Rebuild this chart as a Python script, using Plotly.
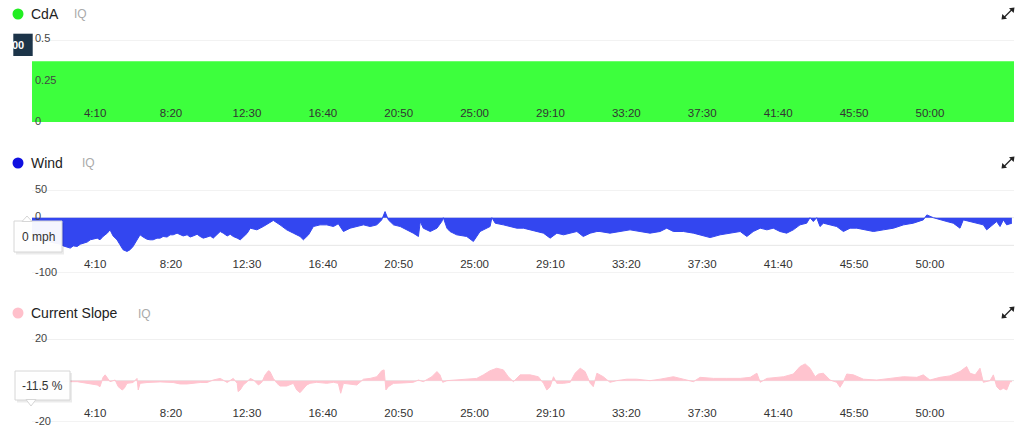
import plotly.graph_objects as go

W, H = 1024, 443

# ---------------- data ----------------
tick_seconds = [250, 500, 750, 1000, 1250, 1500, 1750, 2000, 2250, 2500, 2750, 3000]
tick_labels = ["4:10", "8:20", "12:30", "16:40", "20:50", "25:00",
               "29:10", "33:20", "37:30", "41:40", "45:50", "50:00"]

cda_t = [42, 3277]
cda_v = [0.37, 0.37]

wind_t = [42, 69, 102, 135, 145, 158, 168, 178, 191, 201, 210, 224, 234, 243, 257, 266, 276, 290,
          299, 309, 322, 332, 342, 355, 365, 375, 388, 398, 408, 421, 431, 441, 454, 464, 474, 487,
          497, 507, 520, 530, 540, 553, 563, 573, 586, 596, 606, 619, 629, 639, 652, 662, 672, 685,
          695, 705, 718, 728, 738, 751, 761, 783, 804, 837, 859, 881, 903, 925, 936, 953, 969, 991,
          1013, 1035, 1051, 1068, 1090, 1112, 1134, 1156, 1178, 1194, 1205, 1216, 1233, 1255, 1277,
          1298, 1315, 1321, 1331, 1354, 1376, 1392, 1397, 1409, 1419, 1441, 1474, 1496, 1518, 1540,
          1551, 1557, 1568, 1595, 1617, 1639, 1661, 1683, 1705, 1727, 1749, 1771, 1793, 1815, 1837,
          1858, 1881, 1903, 1913, 1946, 1979, 2012, 2045, 2078, 2111, 2133, 2155, 2188, 2221, 2243,
          2276, 2309, 2342, 2375, 2397, 2418, 2441, 2463, 2484, 2506, 2528, 2550, 2572, 2594, 2605,
          2616, 2627, 2638, 2649, 2671, 2693, 2715, 2737, 2759, 2792, 2814, 2847, 2880, 2913, 2945,
          2978, 2990, 3011, 3033, 3056, 3077, 3099, 3110, 3132, 3154, 3176, 3187, 3209, 3220, 3231,
          3242, 3253, 3270]
wind_v = [-37, -40, -44, -48, -51, -53, -55, -51, -52, -48, -46, -44, -40, -39, -37, -40, -34, -28,
          -22, -33, -40, -49, -58, -61, -58, -52, -40, -31, -35, -39, -40, -40, -37, -37, -34, -35,
          -31, -31, -28, -30, -33, -31, -35, -33, -30, -34, -37, -35, -33, -37, -30, -25, -28, -33,
          -30, -34, -37, -40, -35, -28, -19, -22, -16, -5, -13, -22, -28, -34, -40, -31, -16, -13,
          -13, -16, -11, -25, -19, -16, -13, -16, -13, -4, 11, -4, -13, -16, -22,
          -28, -34, -7, -19, -25, -19, -7, 0, -19, -25, -31, -34, -43, -25, -19,
          -16, 0, -10, -13, -16, -19, -19, -22, -25, -28, -37, -28, -31, -28, -25,
          -34, -28, -25, -25, -28, -25, -22, -25, -28, -25, -19, -25, -25, -28, -31,
          -36, -31, -28, -25, -34, -25, -19, -22, -19, -25, -28, -22, -13, -10, 0,
          -7, 0, -16, -10, -13, -16, -25, -19, -19, -22, -25, -22, -19, -13, -10,
          -4, 5, 0, -4, -7, -10, -19, -4, -7, -10, -13, -22, -13, -7, -16,
          -4, -13, -10]

slope_t = [42, 102, 168, 191, 224, 257, 266, 276, 283, 290, 299, 316, 326, 339, 346, 355, 375, 388,
           392, 398, 421, 464, 507, 530, 553, 596, 619, 639, 662, 685, 705, 718, 721, 728, 738, 751,
           761, 772, 788, 799, 810, 821, 826, 837, 849, 859, 881, 903, 914, 925, 936, 947, 958, 980,
           1013, 1035, 1051, 1059, 1068, 1090, 1112, 1134, 1156, 1178, 1194, 1202, 1208, 1216, 1233,
           1266, 1298, 1315, 1331, 1359, 1376, 1386, 1395, 1409, 1441, 1474, 1507, 1529, 1551, 1573,
           1595, 1611, 1628, 1650, 1683, 1710, 1727, 1738, 1749, 1760, 1771, 1793, 1815, 1831, 1848,
           1864, 1881, 1891, 1903, 1924, 1946, 1968, 2001, 2034, 2067, 2078, 2111, 2155, 2188, 2221,
           2243, 2287, 2331, 2375, 2408, 2430, 2441, 2463, 2518, 2550, 2572, 2589, 2605, 2622, 2633,
           2649, 2671, 2693, 2704, 2715, 2726, 2748, 2781, 2825, 2869, 2913, 2957, 2978, 3000, 3033,
           3066, 3099, 3121, 3132, 3149, 3165, 3176, 3198, 3209, 3220, 3231, 3242, 3253, 3264, 3270]
slope_v = [-0.8, -0.5, -0.5, -0.5, -1.3, -2.1, -2.9, 1.6, 2.8, 1.6, -0.5, 0.3, -2.9, -4.5, -3.7, -1.3, -0.9, 1.1,
           -4.5, -1.3, -0.9, -0.6, -0.9, -1.6, -1.6, -0.9, -0.9, 0.3, 1.1, -0.9, 1.1, -1.3, -5.3, -4.5, -2.1, -0.5,
           1.1, 0.3, -2.1, -0.8, 2.8, 4.8, 4.4, 1.1, -1.3, -2.6, -2.6, -1.3, -4.5, -5.8, -3.7, -2.1, -1.3, -0.8,
           -1.3, -0.8, -1.3, -6.1, -1.3, -1.6, -2.1, 0.7, 1.1, 1.9, 4.8, 5.2, -4.5, -2.9, -1.3,
           -1.1, -0.8, 0.3, -0.5, 1.9, 4.4, 2.8, -0.8, 0.0, 0.3, 0.7, 1.1, 2.8, 4.8, 6.0,
           5.2, 1.9, -0.5, 2.8, 2.8, 1.9, -1.3, -4.5, -2.9, 1.9, -1.3, -1.3, -0.8, 3.6, 6.0,
           4.4, -1.3, -2.9, 3.6, 1.9, -0.8, 0.0, 0.7, 0.7, 0.3, 0.0, 0.7, 1.9, 0.7, -0.5,
           1.6, 1.1, 1.1, 1.1, 1.6, 3.6, -0.8, 1.1, 1.9, 3.2, 6.8, 8.1, 6.0, 1.9, 3.2,
           3.6, 0.3, -0.8, -3.2, -0.5, 3.2, 2.8, 0.7, 0.3, 1.1, 1.9, 1.6, 2.8, 0.3, 1.6,
           2.3, 4.4, 6.8, 3.6, 2.8, 6.0, -0.8, 0.0, 2.8, -2.9, -4.5, -3.7, -4.5, -0.5, -0.5]

panel_titles = ["CdA", "Wind", "Current Slope"]
panel_colors = ["#3dff3d", "#3346f0", "#ffc4cf"]
dot_colors = ["#22ee22", "#1010e0", "#ffc0cb"]
y_gridvals = [[0, 0.25, 0.5], [-100, -50, 0, 50], [-20, 0, 20]]
# labels visible in the reference (others hidden under the tooltips)
y_labelvals = [[0, 0.25, 0.5], [-100, 0, 50], [-20, 20]]
y_labeltext = [["0", "0.25", "0.5"], ["-100", "0", "50"], ["-20", "20"]]
y_ranges = [[0, 0.5], [-100, 50], [-20, 20]]
tooltip_texts = ["00", "0 mph", "-11.5 %"]

# ---------------- layout helpers (pixel -> paper) ----------------
def fx(p):
    return p / W

def fy(p):
    return 1 - p / H

FONT = "Liberation Sans, Arial, sans-serif"
panel_px = [(40, 122), (190, 273), (339.3, 422)]   # (top, bottom) in pixels
header_y = [14, 163, 313]
iq_x = [72, 80, 136]

series = [(cda_t, cda_v), (wind_t, wind_v), (slope_t, slope_v)]

fig = go.Figure()
for i, (t, v) in enumerate(series):
    sfx = "" if i == 0 else str(i + 1)
    fig.add_trace(go.Scatter(
        x=t, y=v, mode="lines", fill="tozeroy",
        line=dict(color=panel_colors[i], width=1 if i else 0),
        fillcolor=panel_colors[i],
        hoverinfo="skip", showlegend=False,
        xaxis="x" + sfx, yaxis="y" + sfx,
    ))

layout = dict(
    width=W, height=H, autosize=False,
    margin=dict(l=0, r=0, t=0, b=0),
    paper_bgcolor="white", plot_bgcolor="rgba(0,0,0,0)",
    font=dict(family=FONT, color="#333"),
    showlegend=False,
)
for i in range(3):
    sfx = "" if i == 0 else str(i + 1)
    top, bot = panel_px[i]
    layout["xaxis" + sfx] = dict(
        domain=[fx(32), fx(1014)], anchor="y" + sfx,
        range=[42, 3277], tickmode="array",
        tickvals=tick_seconds, ticktext=tick_labels,
        ticklabelposition="inside", ticks="",
        showgrid=False, zeroline=False, showline=False,
        tickfont=dict(size=11.5, color="#333", family=FONT),
        fixedrange=True,
    )
    layout["yaxis" + sfx] = dict(
        domain=[fy(bot), fy(top)], anchor="x" + sfx,
        range=y_ranges[i], showticklabels=False, ticks="",
        showgrid=False, zeroline=False, showline=False,
        fixedrange=True,
    )
fig.update_layout(**layout)

shapes = []
annotations = []
for i in range(3):
    cy = header_y[i]
    sfx = "" if i == 0 else str(i + 1)
    # horizontal grid lines at the y tick values
    for val in y_gridvals[i]:
        shapes.append(dict(type="line", xref="paper", yref="y" + sfx,
                           x0=fx(32), x1=fx(1014), y0=val, y1=val,
                           line=dict(color="#e6e6e6", width=1), layer="below"))
    shapes.append(dict(type="circle", xref="paper", yref="paper",
                       x0=fx(12.5), x1=fx(23.5), y0=fy(cy + 5.5), y1=fy(cy - 5.5),
                       fillcolor=dot_colors[i], line=dict(width=0)))
    annotations.append(dict(text=panel_titles[i], xref="paper", yref="paper",
                            x=fx(29), y=fy(cy), xanchor="left", yanchor="middle",
                            showarrow=False, font=dict(size=14, color="#222", family=FONT)))
    annotations.append(dict(text="IQ", xref="paper", yref="paper",
                            x=fx(iq_x[i]), y=fy(cy + 0.5), xanchor="left", yanchor="middle",
                            showarrow=False, font=dict(size=12, color="#aaa", family=FONT)))
    # y tick labels drawn inside the plot area, left-aligned
    for val, txt in zip(y_labelvals[i], y_labeltext[i]):
        annotations.append(dict(text=txt, xref="paper", yref="y" + sfx,
                                x=fx(32.5), y=val, xanchor="left", yanchor="middle",
                                yshift=1.5, showarrow=False,
                                font=dict(size=11, color="#444", family=FONT)))
    # expand icon (two small diagonal arrows)
    c = cy - 0.5
    shapes.append(dict(type="line", xref="paper", yref="paper",
                       x0=fx(1004), y0=fy(c + 4), x1=fx(1012), y1=fy(c - 4),
                       line=dict(color="#222", width=1.3)))
    shapes.append(dict(type="path", xref="paper", yref="paper",
                       path=(f"M {fx(1014.5)} {fy(c - 6)} L {fx(1009)} {fy(c - 5.2)} "
                             f"L {fx(1013.7)} {fy(c - 0.5)} Z"),
                       fillcolor="#222", line=dict(width=0)))
    shapes.append(dict(type="path", xref="paper", yref="paper",
                       path=(f"M {fx(1001.5)} {fy(c + 6)} L {fx(1007)} {fy(c + 5.2)} "
                             f"L {fx(1002.3)} {fy(c + 0.5)} Z"),
                       fillcolor="#222", line=dict(width=0)))

# tooltip: CdA (dark label)
shapes.append(dict(type="rect", xref="paper", yref="paper",
                   x0=fx(13.3), x1=fx(32.7), y0=fy(56), y1=fy(33.7),
                   fillcolor="#1c3449", line=dict(width=0), layer="above"))
annotations.append(dict(text="<b>" + tooltip_texts[0] + "</b>", xref="paper", yref="paper",
                        x=fx(25.5), y=fy(45), xanchor="right", yanchor="middle",
                        showarrow=False, font=dict(size=11, color="white", family=FONT)))

# tooltip: wind
shapes.append(dict(type="rect", xref="paper", yref="paper",
                   x0=fx(16), x1=fx(64), y0=fy(254.5), y1=fy(223),
                   fillcolor="rgba(0,0,0,0.08)", line=dict(width=0), layer="above"))
shapes.append(dict(type="rect", xref="paper", yref="paper",
                   x0=fx(14), x1=fx(62), y0=fy(252), y1=fy(221),
                   fillcolor="rgba(255,255,255,0.95)", line=dict(width=1, color="#d6d6d6"), layer="above"))
shapes.append(dict(type="path", xref="paper", yref="paper",
                   path=f"M {fx(22)} {fy(221.5)} L {fx(27)} {fy(216)} L {fx(32)} {fy(221.5)} Z",
                   fillcolor="white", line=dict(width=1, color="#d6d6d6"), layer="above"))
annotations.append(dict(text=tooltip_texts[1], xref="paper", yref="paper",
                        x=fx(38), y=fy(237), xanchor="center", yanchor="middle",
                        showarrow=False, font=dict(size=12, color="#333", family=FONT)))

# tooltip: slope
shapes.append(dict(type="rect", xref="paper", yref="paper",
                   x0=fx(17), x1=fx(72), y0=fy(402.5), y1=fy(373),
                   fillcolor="rgba(0,0,0,0.08)", line=dict(width=0), layer="above"))
shapes.append(dict(type="rect", xref="paper", yref="paper",
                   x0=fx(15), x1=fx(70), y0=fy(400), y1=fy(371),
                   fillcolor="rgba(255,255,255,0.95)", line=dict(width=1, color="#d6d6d6"), layer="above"))
shapes.append(dict(type="path", xref="paper", yref="paper",
                   path=f"M {fx(26)} {fy(399.5)} L {fx(31)} {fy(406)} L {fx(36)} {fy(399.5)} Z",
                   fillcolor="white", line=dict(width=1, color="#d6d6d6"), layer="above"))
annotations.append(dict(text=tooltip_texts[2], xref="paper", yref="paper",
                        x=fx(42.5), y=fy(386), xanchor="center", yanchor="middle",
                        showarrow=False, font=dict(size=12, color="#333", family=FONT)))

fig.update_layout(shapes=shapes, annotations=annotations)

fig.write_html("out.html", config={"displayModeBar": False},
               post_script="document.body.style.margin='0';document.body.style.overflow='hidden';")
